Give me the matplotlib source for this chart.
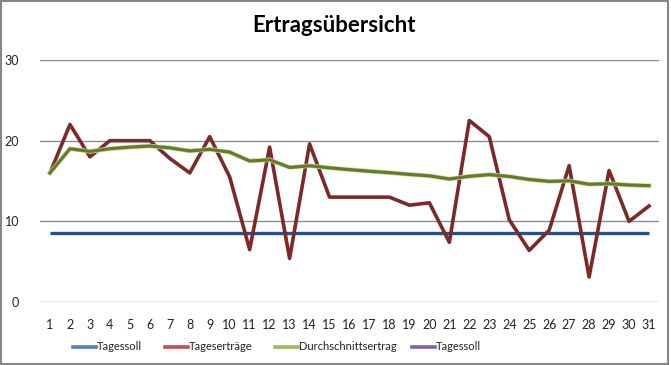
import matplotlib
matplotlib.use("Agg")
import matplotlib.pyplot as plt
import matplotlib.patheffects as pe
from matplotlib.lines import Line2D
import numpy as np

plt.rcParams["font.family"] = ["Lato", "DejaVu Sans"]

days = list(range(1, 32))
tagessoll = [8.5] * 31
tagesertraege = [16, 22, 18, 20, 20, 20, 17.8, 16, 20.5, 15.5, 6.5, 19.2, 5.4, 19.6,
                 13, 13, 13, 13, 12, 12.3, 7.4, 22.5, 20.5, 10.2, 6.4, 8.9, 16.9,
                 3.1, 16.3, 10, 11.9]
durchschnitt = [16, 19, 18.67, 19, 19.2, 19.33, 19.11, 18.73, 18.92, 18.58, 17.48,
                17.63, 16.68, 16.89, 16.63, 16.41, 16.21, 16.03, 15.82, 15.64, 15.25,
                15.58, 15.79, 15.56, 15.19, 14.95, 15.02, 14.6, 14.66, 14.5, 14.42]
tagessoll2 = [np.nan] * 31  # fourth series has no visible values

labels = ["Tagessoll", "Tageserträge", "Durchschnittsertrag", "Tagessoll"]
line_colors = ["#2A5082", "#7B2A28", "#5F7E2C", "#5E4A7E"]
legend_colors = ["#4F81BD", "#C0504D", "#9BBB59", "#8064A2"]

W, H = 671, 365
fig = plt.figure(figsize=(W / 100, H / 100), dpi=100)
ax = fig.add_axes([40 / W, 1 - 302 / H, 619 / W, 242 / H])

ax.plot(days, tagessoll, color=line_colors[0], linewidth=2.4, solid_capstyle="butt")
ax.plot(days, tagesertraege, color=line_colors[1], linewidth=2.6)
ax.plot(days, durchschnitt, color=line_colors[2], linewidth=2.3,
        path_effects=[pe.Stroke(linewidth=3.3, foreground="#D9D3A0"), pe.Normal()])
ax.plot(days, tagessoll2, color=line_colors[3], linewidth=2.4)

ax.set_xlim(0.5, 31.5)
ax.set_ylim(0, 30)
ax.set_xticks(days)
ax.set_xticklabels([str(d) for d in days], fontsize=9, color="#222222")
ax.set_yticks([0, 10, 20, 30])
ax.set_yticklabels(["0", "10", "20", "30"], fontsize=9, color="#222222")
ax.tick_params(length=0)
ax.tick_params(axis="x", pad=12)
ax.tick_params(axis="y", pad=15)
for s in ax.spines.values():
    s.set_visible(False)
ax.grid(axis="y", color="#8C8C8C", linewidth=1.0)
ax.set_axisbelow(True)

fig.text(334 / W, 1 - 25 / H, "Ertragsübersicht", ha="center", va="center",
         fontsize=16, fontweight="bold")

# legend drawn by hand so the entries sit where the original puts them
leg_y = 1 - 347 / H
leg_x = [73, 165, 275, 412]
for x0, lab, c in zip(leg_x, labels, legend_colors):
    fig.add_artist(Line2D([x0 / W, (x0 + 23) / W], [leg_y, leg_y], color=c,
                          linewidth=2.6, transform=fig.transFigure))
    fig.text((x0 + 24) / W, leg_y, lab, ha="left", va="center", fontsize=8,
             color="#222222")

# outer chart border
fig.patches.append(plt.Rectangle((0.002, 0.003), 0.994, 0.993, transform=fig.transFigure,
                                 fill=False, edgecolor="#868686", linewidth=1.5))

fig.savefig("out.png", dpi=100)
